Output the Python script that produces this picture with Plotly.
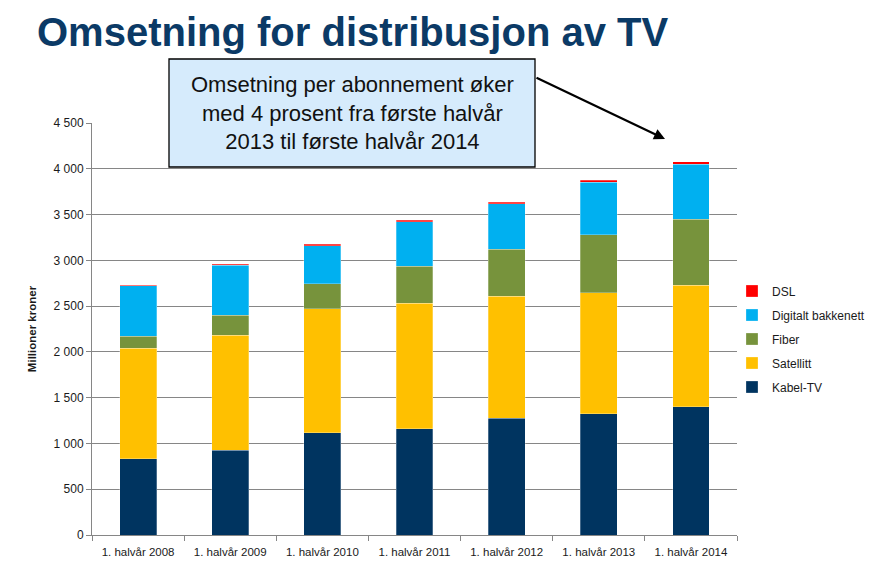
import plotly.graph_objects as go

categories = ["1. halvår 2008", "1. halvår 2009", "1. halvår 2010", "1. halvår 2011",
              "1. halvår 2012", "1. halvår 2013", "1. halvår 2014"]
kabel_tv = [835, 926, 1116, 1163, 1274, 1322, 1401]
satellitt = [1207, 1258, 1357, 1366, 1334, 1325, 1329]
fiber = [130, 214, 273, 407, 514, 630, 721]
digitalt = [551, 546, 416, 487, 495, 577, 601]
dsl = [7, 12, 12, 16, 16, 20, 24]

series = [
    ("Kabel-TV", kabel_tv, "#003460"),
    ("Satellitt", satellitt, "#FFC000"),
    ("Fiber", fiber, "#77933C"),
    ("Digitalt bakkenett", digitalt, "#00B0F0"),
    ("DSL", dsl, "#FF0000"),
]

fig = go.Figure()
n = len(series)
for i, (name, vals, col) in enumerate(series):
    fig.add_trace(go.Bar(
        x=categories, y=vals, name=name, legendgroup=name, legendrank=n - i,
        marker=dict(color=col, line=dict(width=0.6, color="rgba(255,255,255,0.45)")),
    ))

# page body has an 8px margin: lay out in reference pixels, shifted by OFF
OFF = 8
W, H = 882 - OFF, 568 - OFF
L, T = 92 - OFF, 123 - OFF
R = W - (737 - OFF)
B = H - (535 - OFF)
pw, ph = W - L - R, H - T - B

def px(x):
    return (x - OFF - L) / pw

def py(y):
    return (H - B - (y - OFF)) / ph

fig.update_layout(
    width=W, height=H,
    margin=dict(l=L, r=R, t=T, b=B, autoexpand=False),
    barmode="stack", bargap=0.6,
    plot_bgcolor="white", paper_bgcolor="white",
    separators=", ",
    font=dict(family="Liberation Sans, Arial, sans-serif", color="#1a1a1a"),
    showlegend=True,
    legend=dict(
        x=px(732), y=py(339), xanchor="left", yanchor="middle",
        traceorder="grouped", tracegroupgap=5,
        font=dict(size=12, color="#1a1a1a"),
        itemwidth=30, bgcolor="rgba(0,0,0,0)",
    ),
    xaxis=dict(
        type="category", showline=True, linecolor="#868686", linewidth=1,
        ticks="outside", tickson="boundaries", ticklen=5, tickcolor="#868686",
        tickfont=dict(size=11.5, color="#1a1a1a"), showgrid=False,
        ticklabelstandoff=6,
    ),
    yaxis=dict(
        range=[0, 4500], dtick=500, tickformat=",d",
        showline=True, linecolor="#868686", linewidth=1,
        ticks="outside", ticklen=5, tickcolor="#868686",
        gridcolor="#868686", gridwidth=1,
        tickfont=dict(size=12, color="#1a1a1a"),
        title=dict(text="<b>Millioner kroner</b>", font=dict(size=11.5, color="#1a1a1a"), standoff=14),
        zeroline=False,
    ),
)

# Title
fig.add_annotation(
    text="<b>Omsetning for distribusjon av TV</b>",
    xref="paper", yref="paper", x=px(35), y=py(OFF), xanchor="left", yanchor="top",
    showarrow=False, font=dict(size=40, color="#0B3A66", family="Liberation Sans, Arial, sans-serif"),
)

# Callout box
fig.add_shape(
    type="rect", xref="paper", yref="paper",
    x0=px(169), x1=px(535), y0=py(167), y1=py(59),
    fillcolor="#D6EBFC", line=dict(color="black", width=1.3), layer="above",
)
fig.add_annotation(
    text="Omsetning per abonnement øker<br>med 4 prosent fra første halvår<br>2013 til første halvår 2014",
    xref="paper", yref="paper", x=px(352), y=py(113), xanchor="center", yanchor="middle",
    showarrow=False, align="center",
    font=dict(size=22, color="#111111", family="Liberation Sans, Arial, sans-serif"),
)

# Arrow
fig.add_annotation(
    text="", xref="paper", yref="paper", x=px(665), y=py(139),
    ax=535 - 665, ay=77 - 139, showarrow=True,
    arrowhead=2, arrowsize=1, arrowwidth=2.2, arrowcolor="black",
)

fig.write_html("out.html")
